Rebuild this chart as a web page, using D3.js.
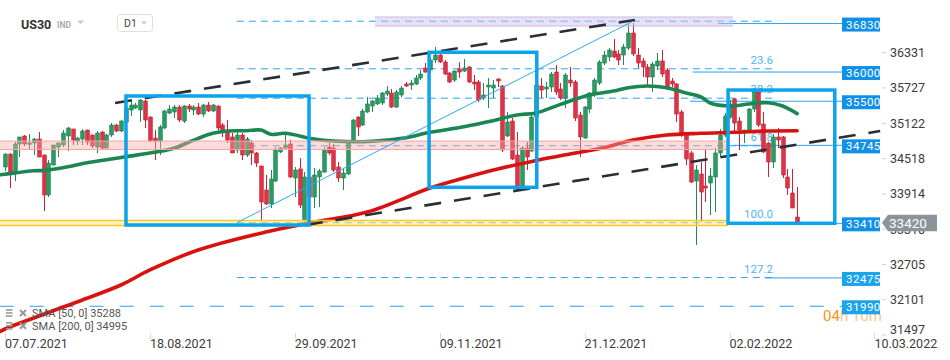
<!DOCTYPE html>
<html><head><meta charset="utf-8">
<script src="https://cdn.jsdelivr.net/npm/d3@7"></script>
<style>body{margin:0;background:#fff;} svg{display:block;font-family:Roboto,"Noto Sans",sans-serif;}</style>
</head><body><svg id="c" width="950" height="360"></svg>
<script>
// ---------- DATA ----------
const opens=[34374,34596,34288,34768,34905,34768,34785,34853,34579,33895,34408,34716,34751,34905,35024,34819,34853,35007,34922,34716,34973,34699,34922,35093,34990,35144,35350,35384,35350,35504,35230,34870,34819,35042,35298,35316,35401,35161,35418,35350,35401,35281,35435,35333,35418,35093,34990,34888,34665,34922,34579,34785,34614,34391,33980,33741,34134,34631,34699,34768,34186,34340,33467,34203,33860,34203,34288,34716,34699,34374,34186,34254,34802,35230,35093,35316,35418,35453,35470,35624,35641,35401,35607,35795,35778,35795,35898,36069,36035,36206,36291,36172,35983,35863,36052,36017,36086,35829,35829,35555,35744,35726,35880,35761,34905,35161,34579,34032,34699,34648,35230,35761,35709,35744,36000,35709,35555,35863,35829,35264,34870,35367,35641,35812,36154,36257,36360,36309,36291,36411,36668,36291,36189,36086,35915,36103,36189,36035,35846,35795,35316,34956,34614,34134,34254,34049,34100,34203,34614,34922,35230,35538,35161,34973,35007,35367,35658,35110,34785,34460,34888,34888,34203,33929,33518];
const highs=[34610,34610,34802,34888,34922,34939,34870,34973,34590,34494,34751,34785,35007,35059,35030,34888,35024,35015,34930,34990,34990,34939,35127,35110,35179,35418,35521,35470,35538,35521,35240,35007,35093,35350,35435,35435,35435,35435,35453,35435,35470,35453,35487,35453,35430,35127,35179,34956,34973,34956,34888,34836,34631,34400,34237,34323,34716,34716,34922,34836,34374,34528,34288,34350,34357,34340,34716,34785,34768,34460,34357,34802,35196,35240,35367,35572,35521,35607,35658,35761,35709,35692,35761,35829,35863,35949,36035,36154,36240,36428,36326,36206,36000,36035,36172,36223,36103,35949,35863,35812,35898,35863,35898,35778,35316,35213,34973,34733,34802,35316,35829,35898,35829,36000,36120,35812,35983,36086,35863,35316,35418,35658,35898,36206,36360,36411,36565,36377,36480,36822,36839,36411,36240,36137,36172,36326,36377,36069,35898,35812,35350,34973,34648,34408,34460,34665,34357,34699,35024,35298,35520,35555,35230,35010,35384,35726,35675,35316,34802,34939,35042,34905,34340,34340,34032];
const lows=[34306,34014,34134,34545,34733,34665,34579,34545,33621,33860,34400,34545,34716,34648,34751,34751,34751,34751,34699,34614,34665,34690,34888,34973,34973,35127,35247,35367,35144,35042,34810,34494,34579,35024,35281,35213,35144,35127,35316,35264,35264,35230,35316,35316,35007,34888,34785,34614,34614,34494,34545,34408,34374,33467,33723,33672,34117,34614,34690,34186,33860,33672,33415,33700,33672,33689,34271,34579,34288,34117,33980,34237,34785,34905,35076,35298,35316,35435,35435,35590,35384,35384,35572,35744,35692,35778,35863,35983,35990,36154,36154,35949,35812,35829,35898,36000,35812,35692,35487,35521,35384,35555,35744,34631,34888,34494,34014,34014,34323,34631,35200,35555,35555,35658,35607,35521,35384,35744,35161,34545,34853,35298,35572,35778,36120,36189,36240,36120,36120,36377,36274,36069,35915,35744,35658,36035,35915,35692,35744,35144,34888,34408,34100,33039,33432,33775,33552,33603,34545,34888,35200,34973,34665,34785,34973,35316,35059,34614,34203,34357,34699,34186,33895,33672,33415];
const closes=[34596,34288,34768,34888,34768,34785,34853,34545,33895,34442,34751,34785,34956,35042,34836,34870,34990,34802,34733,34956,34699,34922,35093,34990,35161,35384,35435,35435,35521,35179,34819,34819,35059,35333,35367,35401,35179,35418,35367,35401,35281,35435,35333,35435,35042,34990,34836,34614,34922,34579,34853,34614,34442,33775,33741,34169,34665,34699,34751,34203,34323,33723,34203,33860,34237,34306,34665,34614,34323,34186,34271,34785,35179,35059,35333,35453,35504,35555,35641,35675,35401,35658,35726,35761,35812,35898,35966,36000,36206,36291,36172,35966,35829,36017,36000,36069,35829,35795,35521,35607,35778,35778,35846,34665,35144,34511,34032,34699,34545,35230,35778,35692,35744,35966,35658,35555,35949,35812,35213,34888,35401,35641,35863,36172,36291,36377,36257,36206,36428,36668,36309,36154,36086,35915,36137,36189,35966,35744,35795,35281,34939,34511,34117,34323,33946,34014,34220,34614,34922,35247,35450,35127,35007,35007,35367,35692,35093,34631,34460,34888,34836,34237,34014,33672,33432];

const dateLabels=["07.07.2021","18.08.2021","29.09.2021","09.11.2021","21.12.2021","02.02.2022","10.03.2022"];
const dateTickBars=[0,30,60,90,120,150,180];
const priceTicks=[36331,35727,35122,34518,33914,33310,32705,32101,31497];
const levels=[36830,36000,35500,34745,33410,32475,31990];
const levelLineStart=[147.6,142.4,141.8,150.7,150.7,157.3,-1.1];
const lastPrice=33420;

const sma50Bars=[-1,0,6,8,13,17,22,25,31,35,38,40,43,46,50,53,55,58,64,68,74,79,83,88,95,101,106,110,115,121,126,129,133,137,141,144,146,150,154,158,161,164];
const sma50Vals=[34240,34250,34310,34315,34379,34448,34511,34550,34626,34694,34797,34865,34951,34990,34995,35007,34934,34951,34853,34819,34807,34836,34876,34968,35064,35167,35264,35300,35447,35607,35675,35732,35761,35732,35641,35577,35470,35418,35453,35475,35418,35288];
const sma200Bars=[-1,0,16,24,30,40,54,63,75,88,95,102,110,117,124,130,137,144,151,158,164];
const sma200Vals=[31560,31601,32097,32354,32611,32953,33261,33415,33603,34014,34186,34340,34485,34597,34704,34836,34922,34951,34968,34990,34995];
const legendNames=["SMA [50, 0] 35288","SMA [200, 0] 34995"];

const fibRatios=[0,23.6,38.2,61.8,100,127.2];
const fibHigh=36870, fibLow=33420, fibStartBar=48, fibTopBar=130, fibEndBar=159;

const zoneTop=[34819,33458,36942], zoneBottom=[34674,33372,36788];
const zoneStart=[-1.1,-1.1,76.6], zoneEnd=[149.7,149.7,150.7];
const boxStart=[25.05,87.8,149.7], boxEnd=[62.94,110.1,171.8];
const boxTop=[35590,36338,35692], boxBottom=[33381,34026,33410];
const trendX1=[22.8,62.3], trendP1=[35470,33381], trendX2=[130.4,181.2], trendP2=[36891,34990];

// ---------- SCALES ----------
const svg=d3.select("#c");
const x=d3.scaleLinear().domain([0,180]).range([5,874.4]);
const y=d3.scaleLinear().domain([31497,36331]).range([335.06,52.7]);
const idx=d3.range(opens.length);

// fib lines and labels (beneath candles)
const fibPrice=r=>fibHigh-(fibHigh-fibLow)*r/100;
const gFib=svg.append("g");
gFib.selectAll("line").data(fibRatios).join("line")
  .attr("x1",x(fibStartBar)).attr("x2",x(fibEndBar))
  .attr("y1",d=>y(fibPrice(d))).attr("y2",d=>y(fibPrice(d)))
  .attr("stroke","#2ea3ee").attr("stroke-width",1).attr("stroke-dasharray","7,5");
gFib.selectAll("text").data(fibRatios.filter(r=>r>0)).join("text")
  .attr("x",x(fibEndBar)).attr("y",d=>y(fibPrice(d))-5).attr("text-anchor","end")
  .attr("font-size",11.5).attr("fill","#52b6f2").text(d=>d.toFixed(1));

// level lines
const gLev=svg.append("g");
gLev.selectAll("line").data(levels).join("line")
  .attr("x1",(d,i)=>x(levelLineStart[i])).attr("x2",842)
  .attr("y1",d=>y(d)).attr("y2",d=>y(d))
  .attr("stroke","#2b9ff0").attr("stroke-width",1)
  .attr("stroke-dasharray",(d,i)=>levelLineStart[i]<0?"14,16":null);

// candles
const gC=svg.append("g");
const up=i=>closes[i]>=opens[i];
gC.selectAll("line").data(idx).join("line")
  .attr("x1",i=>Math.round(x(i))+0.5).attr("x2",i=>Math.round(x(i))+0.5)
  .attr("y1",i=>y(highs[i])).attr("y2",i=>y(lows[i]))
  .attr("stroke",i=>up(i)?"#1f8a54":"#cc2236").attr("stroke-width",1);
gC.selectAll("rect").data(idx).join("rect")
  .attr("x",i=>Math.round(x(i))-1.3).attr("width",3.6)
  .attr("y",i=>y(Math.max(opens[i],closes[i])))
  .attr("height",i=>Math.max(1.2,Math.abs(y(opens[i])-y(closes[i]))))
  .attr("fill",i=>up(i)?"#2a9b63":"#dd3344")
  .attr("stroke",i=>up(i)?"#1c7d4b":"#c41f30").attr("stroke-width",0.6);

// SMAs
const line=d3.line().x(d=>x(d[0])).y(d=>y(d[1])).curve(d3.curveCatmullRom);
svg.append("path").attr("d",line(sma200Bars.map((b,i)=>[b,sma200Vals[i]])))
  .attr("fill","none").attr("stroke","#d8120f").attr("stroke-width",3.6).attr("stroke-linecap","round");
svg.append("path").attr("d",line(sma50Bars.map((b,i)=>[b,sma50Vals[i]])))
  .attr("fill","none").attr("stroke","#1b8652").attr("stroke-width",3.6).attr("stroke-linecap","round");

// zones
const zFill=["rgba(248,170,170,0.42)","rgba(255,232,140,0.5)","rgba(205,190,235,0.45)"];
const zStroke=["#f4a5a5","#f6c924","#c9b9e3"];
const gZ=svg.append("g");
zoneTop.forEach((t,i)=>{
  gZ.append("rect").attr("x",x(zoneStart[i])).attr("width",x(zoneEnd[i])-x(zoneStart[i]))
    .attr("y",y(t)).attr("height",y(zoneBottom[i])-y(t)).attr("fill",zFill[i]);
  [t,zoneBottom[i]].forEach(p=>gZ.append("line").attr("x1",x(zoneStart[i])).attr("x2",x(zoneEnd[i]))
    .attr("y1",y(p)).attr("y2",y(p)).attr("stroke",zStroke[i]).attr("stroke-width",i===1?1.6:1));
});

// trend lines
svg.append("g").selectAll("line").data(trendX1).join("line")
  .attr("x1",d=>x(d)).attr("y1",(d,i)=>y(trendP1[i]))
  .attr("x2",(d,i)=>x(trendX2[i])).attr("y2",(d,i)=>y(trendP2[i]))
  .attr("stroke","#2a2e35").attr("stroke-width",2.6).attr("stroke-dasharray","17,13");
// fib diagonal
svg.append("line").attr("x1",x(fibStartBar)).attr("y1",y(fibLow)).attr("x2",x(fibTopBar)).attr("y2",y(fibHigh))
  .attr("stroke","#32aaf2").attr("stroke-width",1);

// boxes
svg.append("g").selectAll("rect").data(boxStart).join("rect")
  .attr("x",d=>x(d)).attr("width",(d,i)=>x(boxEnd[i])-x(d))
  .attr("y",(d,i)=>y(boxTop[i])).attr("height",(d,i)=>y(boxBottom[i])-y(boxTop[i]))
  .attr("fill","none").attr("stroke","#0aa3ec").attr("stroke-width",3.5);

// orange timer text
const tt=svg.append("text").attr("x",823).attr("y",321).attr("font-size",15);
tt.append("tspan").attr("fill","#f7931e").text("04");
tt.append("tspan").attr("fill","#fbc489").text("h 10m");

// right axis
const gA=svg.append("g");
gA.selectAll("line").data(priceTicks).join("line")
  .attr("x1",882).attr("x2",886).attr("y1",d=>y(d)).attr("y2",d=>y(d)).attr("stroke","#d0d0d0");
gA.selectAll("text").data(priceTicks).join("text")
  .attr("x",890).attr("y",d=>Math.min(330,y(d))).attr("dy","0.35em")
  .attr("font-size",12.5).attr("fill","#3c3c3c").text(d=>d);

// level labels
const gL=svg.append("g");
gL.selectAll("rect").data(levels).join("rect")
  .attr("x",842).attr("width",38).attr("y",d=>y(d)-6).attr("height",14)
  .attr("fill",d=>d<33000?"#1aa3ee":"#1190e8");
gL.selectAll("text").data(levels).join("text")
  .attr("x",846).attr("y",d=>y(d)+1).attr("dy","0.36em")
  .attr("font-size",11.5).attr("letter-spacing",0.5).attr("fill","#fff").text(d=>d);

// current price tag
const py=y(lastPrice);
svg.append("path").attr("d",`M882,${py}L888,${py-8}L937,${py-8}L937,${py+8.5}L888,${py+8.5}Z`).attr("fill","#8b9499");
svg.append("text").attr("x",889).attr("y",py).attr("dy","0.36em").attr("font-size",13.5).attr("fill","#fff").text(lastPrice);

// x axis
const gX=svg.append("g");
gX.selectAll("line").data(dateTickBars).join("line")
  .attr("x1",d=>Math.round(x(d))+0.5).attr("x2",d=>Math.round(x(d))+0.5).attr("y1",333).attr("y2",339).attr("stroke","#dcdcdc");
gX.selectAll("text").data(dateTickBars).join("text")
  .attr("x",d=>x(d)).attr("y",347.5).attr("font-size",12.5).attr("fill","#3c3c3c").text((d,i)=>dateLabels[i]);

// legend
const gLg=svg.append("g");
legendNames.forEach((t,i)=>{
  const yy=313+i*12.8;
  [-3,0,3].forEach(o=>gLg.append("rect").attr("x",6).attr("y",yy+o-0.8).attr("width",6.5).attr("height",1.6).attr("fill","#999"));
  gLg.append("path").attr("d",`M20,${yy-3}L26,${yy+3}M26,${yy-3}L20,${yy+3}`).attr("stroke","#999").attr("stroke-width",2);
  gLg.append("text").attr("x",32).attr("y",yy).attr("dy","0.35em").attr("font-size",11).attr("fill","#555").text(t);
});

// header
svg.append("text").attr("x",21).attr("y",28.5).attr("font-size",12.5).attr("font-weight","bold").attr("fill","#333").text("US30");
svg.append("text").attr("x",57).attr("y",28).attr("font-size",8.5).attr("font-weight","bold").attr("fill","#aaa").text("IND");
svg.append("path").attr("d","M77,20.5L84,20.5L80.5,24Z").attr("fill","#c8c8c8");
svg.append("rect").attr("x",117.5).attr("y",14.5).attr("width",35).attr("height",17).attr("rx",3).attr("fill","#fff").attr("stroke","#dedede");
svg.append("text").attr("x",124).attr("y",27).attr("font-size",10.5).attr("fill","#444").text("D1");
svg.append("path").attr("d","M141,21.5L147,21.5L144,24.5Z").attr("fill","#c8c8c8");
</script></body></html>
